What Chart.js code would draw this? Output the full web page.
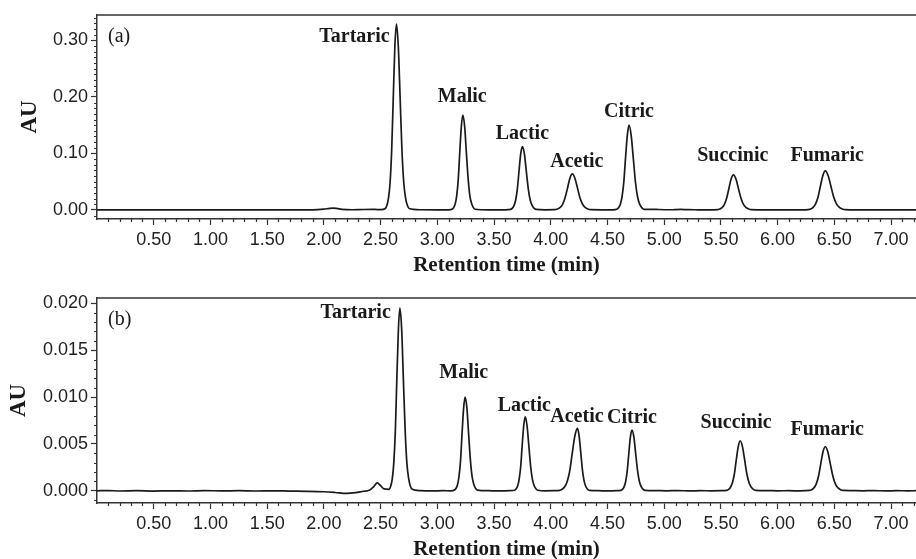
<!DOCTYPE html>
<html>
<head>
<meta charset="utf-8">
<script src="https://cdn.jsdelivr.net/npm/chart.js@4.4.0/dist/chart.umd.min.js"></script>
<style>
  body { margin: 0; background: #fff; }
  canvas { position: absolute; left: 0; }
  #chartA { top: 0; }
  #chartB { top: 280px; }
</style>
</head>
<body>
<canvas id="chartA" width="916" height="280"></canvas>
<canvas id="chartB" width="916" height="279"></canvas>
<script>
// panel (a) - standard mixture
const timeA = [
  0.00, 0.50, 1.00, 1.50, 1.90, 2.00, 2.05, 2.08, 2.11, 2.16, 2.25, 2.35, 2.45, 2.50,
  2.542, 2.556, 2.570, 2.584, 2.598, 2.612, 2.626, 2.640, 2.656, 2.672, 2.688, 2.704, 2.720, 2.736, 2.752,
  2.85, 3.00, 3.10,
  3.130, 3.144, 3.158, 3.171, 3.185, 3.198, 3.212, 3.225, 3.241, 3.256, 3.272, 3.287, 3.303, 3.318, 3.334,
  3.45, 3.60,
  3.645, 3.660, 3.675, 3.690, 3.705, 3.720, 3.735, 3.750, 3.768, 3.785, 3.803, 3.820, 3.838, 3.855, 3.873,
  3.95,
  4.035, 4.058, 4.080, 4.103, 4.125, 4.148, 4.169, 4.190, 4.213, 4.236, 4.259, 4.282, 4.305, 4.328, 4.351,
  4.45, 4.55,
  4.582, 4.597, 4.613, 4.628, 4.644, 4.659, 4.675, 4.690, 4.709, 4.728, 4.747, 4.766, 4.785, 4.804, 4.823,
  4.90, 4.95, 5.05, 5.15, 5.20, 5.30, 5.40,
  5.470, 5.490, 5.510, 5.530, 5.550, 5.570, 5.590, 5.610, 5.633, 5.655, 5.678, 5.700, 5.723, 5.745, 5.768,
  5.90, 6.05, 6.20,
  6.270, 6.291, 6.313, 6.334, 6.356, 6.377, 6.399, 6.420, 6.445, 6.470, 6.495, 6.520, 6.545, 6.570, 6.595,
  6.70, 6.90, 7.10, 7.22
];
const auA = [
  0, 0, 0, 0, 0.0003, 0.0015, 0.0028, 0.0032, 0.0028, 0.0012, 0.0004, 0.0008, 0.0009, 0.0006,
  0.0026, 0.0082, 0.0214, 0.049, 0.107, 0.200, 0.290, 0.329, 0.290, 0.200, 0.107, 0.049, 0.0214, 0.0082, 0.0026,
  0.0004, 0.0003, 0.0003,
  0.0013, 0.0042, 0.0109, 0.025, 0.055, 0.102, 0.148, 0.168, 0.148, 0.102, 0.055, 0.025, 0.0109, 0.0042, 0.0013,
  0.0003, 0.0003,
  0.0009, 0.0028, 0.0073, 0.0168, 0.036, 0.068, 0.099, 0.112, 0.099, 0.068, 0.036, 0.0168, 0.0073, 0.0028, 0.0009,
  0.0003,
  0.0005, 0.0016, 0.0041, 0.0096, 0.0207, 0.0387, 0.0562, 0.0637, 0.0562, 0.0387, 0.0207, 0.0096, 0.0041, 0.0016, 0.0005,
  0.0003, 0.0003,
  0.0012, 0.0038, 0.0098, 0.0225, 0.049, 0.091, 0.132, 0.150, 0.132, 0.091, 0.049, 0.0225, 0.0098, 0.0038, 0.0012,
  0.0012, 0.0008, 0.0004, 0.0010, 0.0005, 0.0003, 0.0002,
  0.0005, 0.0016, 0.0040, 0.0093, 0.0202, 0.0376, 0.0547, 0.062, 0.0547, 0.0376, 0.0202, 0.0093, 0.0040, 0.0016, 0.0005,
  0.0002, 0.0002, 0.0002,
  0.0006, 0.0017, 0.0045, 0.0104, 0.0224, 0.0419, 0.0609, 0.069, 0.0609, 0.0419, 0.0224, 0.0104, 0.0045, 0.0017, 0.0006,
  0.0002, 0.0001, 0.0001, 0.0001
];

// panel (b) - sample
const timeB = [
  0.00, 0.10, 0.20, 0.35, 0.50, 0.65, 0.80, 0.95, 1.10, 1.25, 1.40, 1.55, 1.70, 1.85, 2.00, 2.10, 2.20, 2.28, 2.35, 2.40, 2.44, 2.47, 2.50, 2.53,
  2.576, 2.589, 2.603, 2.616, 2.630, 2.643, 2.657, 2.670, 2.686, 2.701, 2.717, 2.732, 2.748, 2.763, 2.779,
  2.85, 2.95, 3.05, 3.12,
  3.151, 3.164, 3.178, 3.191, 3.205, 3.218, 3.232, 3.245, 3.261, 3.276, 3.292, 3.307, 3.323, 3.338, 3.354,
  3.45, 3.55, 3.64,
  3.681, 3.694, 3.708, 3.721, 3.735, 3.748, 3.762, 3.775, 3.791, 3.807, 3.823, 3.839, 3.855, 3.871, 3.887,
  3.95, 4.02,
  4.078, 4.100, 4.123, 4.145, 4.168, 4.190, 4.213, 4.235, 4.250, 4.265, 4.280, 4.295, 4.310, 4.325, 4.340,
  4.42, 4.50, 4.58,
  4.618, 4.632, 4.646, 4.660, 4.674, 4.688, 4.702, 4.716, 4.733, 4.749, 4.766, 4.782, 4.799, 4.815, 4.832,
  4.92, 5.02, 5.12, 5.22, 5.32, 5.42, 5.50,
  5.548, 5.565, 5.583, 5.600, 5.618, 5.635, 5.653, 5.670, 5.690, 5.710, 5.730, 5.750, 5.770, 5.790, 5.810,
  5.90, 6.00, 6.10, 6.20,
  6.280, 6.300, 6.320, 6.340, 6.360, 6.380, 6.400, 6.420, 6.443, 6.465, 6.488, 6.510, 6.533, 6.555, 6.578,
  6.65, 6.75, 6.85, 6.95, 7.05, 7.15, 7.22
];
const auB = [
  0.00000, 0.00003, -0.00002, 0.00001, -0.00003, 0.00000, -0.00002, 0.00002, -0.00001, 0.00001, -0.00002, 0.00000,
  -0.00003, -0.00005, -0.00010, -0.00018, -0.00028, -0.00020, -0.00005, 0.00005, 0.00045, 0.00085, 0.00055, 0.00020,
  0.00016, 0.00049, 0.00127, 0.00293, 0.00634, 0.01184, 0.0172, 0.0195, 0.0172, 0.01184, 0.00634, 0.00293, 0.00127, 0.00049, 0.00016,
  0.00002, -0.00001, 0.00001, 0.00000,
  0.00008, 0.00025, 0.00065, 0.0015, 0.00325, 0.00607, 0.00882, 0.0100, 0.00882, 0.00607, 0.00325, 0.0015, 0.00065, 0.00025, 0.00008,
  0.00001, -0.00001, 0.00001,
  0.00006, 0.00020, 0.00051, 0.00119, 0.00257, 0.00480, 0.00697, 0.0079, 0.00697, 0.00480, 0.00257, 0.00119, 0.00051, 0.00020, 0.00006,
  0.00000, 0.00001,
  0.00005, 0.00017, 0.00043, 0.00100, 0.00216, 0.00404, 0.00587, 0.00666, 0.00587, 0.00404, 0.00216, 0.00100, 0.00043, 0.00017, 0.00005,
  0.00001, -0.00001, 0.00001,
  0.00005, 0.00016, 0.00042, 0.00097, 0.00211, 0.00393, 0.00572, 0.00648, 0.00572, 0.00393, 0.00211, 0.00097, 0.00042, 0.00016, 0.00005,
  0.00003, 0.00000, 0.00002, -0.00001, 0.00001, 0.00000, 0.00001,
  0.00004, 0.00013, 0.00035, 0.00080, 0.00174, 0.00324, 0.00471, 0.00534, 0.00471, 0.00324, 0.00174, 0.00080, 0.00035, 0.00013, 0.00004,
  0.00002, 0.00000, 0.00001, -0.00001,
  0.00004, 0.00012, 0.00031, 0.00071, 0.00153, 0.00285, 0.00415, 0.0047, 0.00415, 0.00285, 0.00153, 0.00071, 0.00031, 0.00012, 0.00004,
  0.00002, 0.00000, 0.00002, -0.00001, 0.00001, 0.00000, 0.00001
];

// peak names and where their labels sit (time, AU)
const peakNames = ["Tartaric", "Malic", "Lactic", "Acetic", "Citric", "Succinic", "Fumaric"];
const labelTimeA = [2.27, 3.22, 3.75, 4.23, 4.69, 5.605, 6.437];
const labelAuA = [0.307, 0.2005, 0.1345, 0.0855, 0.174, 0.0956, 0.0956];
const labelTimeB = [2.28, 3.233, 3.767, 4.231, 4.716, 5.634, 6.437];
const labelAuB = [0.01896, 0.01256, 0.00904, 0.0079, 0.00783, 0.00726, 0.00655];

// axis ticks
const xTicks = [0.5, 1.0, 1.5, 2.0, 2.5, 3.0, 3.5, 4.0, 4.5, 5.0, 5.5, 6.0, 6.5, 7.0];
const yTicksA = [0, 0.1, 0.2, 0.3];
const yTicksB = [0, 0.005, 0.010, 0.015, 0.020];

const INK = "#1a1a1a";
const AXIS = "#333";

// small ticks between the labelled ones + top frame + panel tag + peak names
const extras = {
  id: "extras",
  afterDraw(chart, args, opts) {
    const ctx = chart.ctx;
    const xs = chart.scales.x, ys = chart.scales.y;
    const area = chart.chartArea;
    ctx.save();
    ctx.strokeStyle = AXIS;
    ctx.lineWidth = 1.2;
    ctx.beginPath();
    for (let i = 1; i * 0.1 <= xs.max; i++) {
      if (i % 5 === 0) continue;
      const px = Math.round(xs.getPixelForValue(i * 0.1)) + 0.5;
      ctx.moveTo(px, area.bottom);
      ctx.lineTo(px, area.bottom + 3);
    }
    const i0 = Math.ceil(ys.min / opts.yStep), i1 = Math.floor(ys.max / opts.yStep);
    for (let i = i0; i <= i1; i++) {
      if (i % opts.yEvery === 0) continue;
      const py = Math.round(ys.getPixelForValue(i * opts.yStep)) + 0.5;
      ctx.moveTo(area.left - 3, py);
      ctx.lineTo(area.left, py);
    }
    ctx.stroke();

    ctx.lineWidth = 1.5;
    ctx.beginPath();
    ctx.moveTo(area.left, area.top);
    ctx.lineTo(chart.width, area.top);
    ctx.stroke();

    ctx.fillStyle = INK;
    ctx.font = "20px 'Liberation Serif'";
    ctx.textAlign = "left";
    ctx.textBaseline = "middle";
    ctx.fillText(opts.tag, area.left + 11, area.top + 22);

    ctx.font = "bold 20px 'Liberation Serif'";
    ctx.textAlign = "center";
    opts.names.forEach((name, i) => {
      ctx.fillText(name, xs.getPixelForValue(opts.times[i]), ys.getPixelForValue(opts.values[i]));
    });
    ctx.restore();
  }
};

function makeChart(id, time, au, p) {
  new Chart(document.getElementById(id), {
    type: "line",
    data: {
      datasets: [{
        data: time.map((t, i) => ({ x: t, y: au[i] })),
        borderColor: INK,
        borderWidth: 1.7,
        pointRadius: 0,
        cubicInterpolationMode: "monotone",
        fill: false
      }]
    },
    options: {
      responsive: false,
      animation: false,
      devicePixelRatio: 1,
      layout: { padding: { left: 0, right: 0, top: p.top, bottom: 0 } },
      plugins: {
        legend: { display: false },
        tooltip: { enabled: false },
        extras: { tag: p.tag, yStep: p.yStep, yEvery: p.yEvery, names: peakNames, times: p.labelTimes, values: p.labelValues }
      },
      scales: {
        x: {
          type: "linear",
          min: 0,
          max: 7.22,
          afterBuildTicks: s => { s.ticks = xTicks.map(v => ({ value: v })); },
          afterFit: s => { s.height = p.xAxisH; },
          ticks: {
            callback: v => v.toFixed(2),
            font: { family: "'Liberation Sans'", size: 18 },
            color: "#222",
            padding: 4,
            maxRotation: 0,
            autoSkip: false
          },
          grid: { drawOnChartArea: false, tickLength: 6, color: AXIS, tickWidth: 1.2 },
          border: { color: AXIS, width: 1.5 },
          title: {
            display: true,
            text: "Retention time (min)",
            color: INK,
            font: { family: "'Liberation Serif'", size: 21, weight: "bold", lineHeight: 1 },
            padding: { top: 0, bottom: p.titleBottom }
          }
        },
        y: {
          min: p.yMin,
          max: p.yMax,
          afterBuildTicks: s => { s.ticks = p.yTicks.map(v => ({ value: v })); },
          afterFit: s => { s.width = 97; },
          ticks: {
            callback: v => v.toFixed(p.digits),
            font: { family: "'Liberation Sans'", size: 18 },
            color: "#222",
            padding: 3
          },
          grid: { drawOnChartArea: false, tickLength: 6, color: AXIS, tickWidth: 1.2 },
          border: { color: AXIS, width: 1.5 },
          title: {
            display: true,
            text: "AU",
            color: INK,
            font: { family: "'Liberation Serif'", size: 23, weight: "bold", lineHeight: 1 },
            padding: { top: p.auPad, bottom: 0 }
          }
        }
      }
    },
    plugins: [extras]
  });
}

makeChart("chartA", timeA, auA, {
  tag: "(a)", top: 15, xAxisH: 61, titleBottom: 3.5, yMin: -0.016, yMax: 0.345,
  yTicks: yTicksA, digits: 2, yStep: 0.01, yEvery: 10, auPad: 18.5,
  labelTimes: labelTimeA, labelValues: labelAuA
});
makeChart("chartB", timeB, auB, {
  tag: "(b)", top: 18, xAxisH: 56, titleBottom: -1.5, yMin: -0.0013, yMax: 0.02057,
  yTicks: yTicksB, digits: 3, yStep: 0.001, yEvery: 5, auPad: 7.5,
  labelTimes: labelTimeB, labelValues: labelAuB
});
</script>
</body>
</html>
